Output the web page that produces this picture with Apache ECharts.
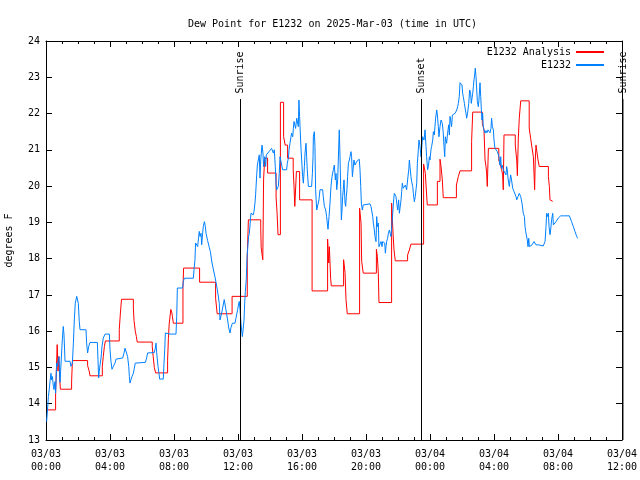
<!DOCTYPE html>
<html><head><meta charset="utf-8">
<script src="https://cdn.jsdelivr.net/npm/echarts@6/dist/echarts.min.js"></script>
<style>html,body{margin:0;padding:0;background:#fff}#c{width:640px;height:480px}</style>
</head><body><div id="c"></div>
<script>
// hours since 2025-03-03 00:00 UTC, dew point (F)
const analysisData = [[0.04,13.83],[0.6,14.29],[0.7,15.63],[0.75,14.9],[0.8,15.3],[0.85,14.75],[0.9,14.4],[1.6,14.6],[1.65,15.19],[2.6,15.05],[2.7,14.9],[2.75,14.77],[3.52,15.03],[3.58,15.3],[3.65,15.58],[3.71,15.73],[4.58,16.05],[4.65,16.5],[4.72,16.88],[5.46,16.64],[5.5,16.3],[5.58,16.0],[5.65,15.85],[5.7,15.7],[6.64,15.58],[6.7,15.3],[6.77,15.0],[6.85,14.85],[7.6,15.2],[7.65,15.8],[7.7,16.2],[7.8,16.6],[7.87,16.5],[7.9,16.4],[7.96,16.22],[8.56,17.2],[8.6,17.74],[9.6,17.35],[10.6,16.91],[10.7,16.48],[11.63,16.96],[12.58,18.1],[12.65,19.07],[13.42,18.85],[13.45,18.3],[13.55,17.97],[13.6,20.2],[13.67,20.77],[13.85,20.36],[14.38,19.7],[14.45,19.2],[14.5,18.66],[14.65,22.31],[14.85,21.36],[14.95,21.13],[15.1,20.77],[15.45,20.45],[15.5,20.0],[15.55,19.44],[15.65,20.4],[15.85,19.62],[16.63,17.11],[17.6,18.54],[17.67,17.88],[17.71,18.33],[17.79,17.46],[17.83,17.25],[18.6,17.97],[18.69,17.62],[18.75,16.87],[18.83,16.48],[19.6,19.39],[19.69,18.98],[19.73,17.92],[19.83,17.6],[20.65,18.26],[20.71,18.06],[20.77,17.6],[20.81,16.79],[21.6,19.53],[21.69,18.7],[21.75,18.24],[21.83,17.94],[22.6,18.1],[22.71,18.24],[22.81,18.4],[23.6,20.61],[23.71,20.35],[23.75,20.03],[23.83,19.48],[24.46,20.13],[24.625,20.74],[24.69,20.54],[24.77,20.17],[24.83,19.68],[25.65,20.03],[25.77,20.26],[25.875,20.42],[26.6,21.23],[26.67,22.04],[27.27,21.73],[27.375,21.55],[27.44,20.72],[27.5,20.54],[27.54,20.36],[27.58,19.99],[27.65,21.04],[28.3,20.72],[28.42,20.54],[28.48,20.45],[28.54,20.31],[28.58,19.9],[28.625,21.41],[29.33,21.13],[29.42,20.72],[29.46,20.29],[29.52,21.32],[29.58,21.87],[29.67,22.35],[30.2,21.6],[30.29,21.32],[30.35,21.13],[30.46,20.81],[30.5,20.36],[30.54,19.9],[30.58,20.72],[30.625,21.13],[30.75,20.72],[30.83,20.54],[31.4,20.26],[31.46,19.99],[31.5,19.62],[31.54,19.58],[31.67,19.58]];

const stationData = [[0.04,13.51],[0.08,13.74],[0.15,14.2],[0.21,14.43],[0.25,14.61],[0.31,14.84],[0.35,14.66],[0.4,14.75],[0.46,14.48],[0.5,14.39],[0.56,14.61],[0.6,14.29],[0.67,15.12],[0.71,15.03],[0.77,15.21],[0.81,15.3],[0.875,14.59],[0.98,14.59],[1.02,15.76],[1.08,16.13],[1.125,15.9],[1.19,15.17],[1.5,15.17],[1.56,15.03],[1.6,14.98],[1.65,15.12],[1.71,15.67],[1.77,16.31],[1.83,16.77],[1.92,16.96],[1.96,17.0],[2.02,16.77],[2.08,16.27],[2.125,16.04],[2.5,16.04],[2.54,15.67],[2.6,15.4],[2.67,15.58],[2.75,15.69],[3.21,15.69],[3.25,15.21],[3.29,14.71],[3.33,14.89],[3.375,15.07],[3.44,15.26],[3.5,15.58],[3.58,15.81],[3.69,15.92],[3.96,15.92],[4.0,15.49],[4.06,15.17],[4.125,14.95],[4.25,14.95],[4.31,15.12],[4.375,15.23],[4.46,15.26],[4.79,15.26],[4.875,15.4],[4.94,15.53],[5.04,15.53],[5.1,15.3],[5.17,15.03],[5.21,14.75],[5.25,14.57],[5.31,14.66],[5.375,14.75],[5.46,14.84],[5.52,14.98],[5.58,15.12],[5.67,15.14],[6.21,15.14],[6.29,15.26],[6.35,15.4],[6.42,15.41],[6.77,15.41],[6.83,15.53],[6.875,15.67],[6.92,15.4],[7.0,15.03],[7.06,14.84],[7.1,14.68],[7.33,14.68],[7.375,15.12],[7.42,15.49],[7.46,15.95],[7.54,15.97],[7.75,15.92],[8.125,15.92],[8.17,16.41],[8.21,17.19],[8.54,17.19],[8.58,17.37],[8.65,17.46],[9.21,17.46],[9.25,17.69],[9.31,17.97],[9.35,18.43],[9.42,18.47],[9.48,18.33],[9.54,18.61],[9.58,18.75],[9.625,18.61],[9.69,18.7],[9.73,18.38],[9.79,18.7],[9.83,18.88],[9.9,19.02],[9.96,18.88],[10.0,18.7],[10.1,18.5],[10.21,18.3],[10.27,18.2],[10.375,17.88],[10.46,17.88],[10.56,17.5],[10.71,17.14],[10.83,16.77],[10.875,16.31],[10.98,16.5],[11.14,16.87],[11.25,16.87],[11.35,16.31],[11.42,16.09],[11.5,15.95],[11.56,16.1],[11.65,16.22],[11.81,16.22],[11.87,16.35],[11.98,16.6],[12.04,16.75],[12.08,16.82],[12.125,16.6],[12.19,16.2],[12.27,15.85],[12.31,16.0],[12.375,16.3],[12.42,16.8],[12.46,17.1],[12.52,17.45],[12.56,18.0],[12.625,18.4],[12.66,18.6],[12.71,18.7],[12.81,19.25],[12.96,19.21],[13.0,19.3],[13.06,19.53],[13.1,19.76],[13.17,20.31],[13.21,20.58],[13.27,20.63],[13.33,20.86],[13.375,20.22],[13.42,20.72],[13.5,21.13],[13.56,20.91],[13.6,20.54],[13.63,20.68],[13.67,20.81],[13.73,20.54],[13.77,20.86],[13.81,20.91],[13.87,20.86],[13.94,20.95],[14.02,21.0],[14.1,21.04],[14.17,21.0],[14.21,20.91],[14.27,21.0],[14.33,20.54],[14.375,20.08],[14.42,19.9],[14.52,19.99],[14.58,20.35],[14.625,20.81],[14.69,20.83],[14.73,20.81],[14.79,20.45],[15.04,20.45],[15.08,20.63],[15.15,20.77],[15.19,21.0],[15.25,21.18],[15.31,21.36],[15.35,21.46],[15.42,21.36],[15.46,21.59],[15.5,21.78],[15.56,21.82],[15.6,21.59],[15.67,21.87],[15.73,21.92],[15.77,21.64],[15.81,22.37],[15.85,21.92],[15.875,21.92],[15.94,21.0],[15.98,20.72],[16.04,20.26],[16.085,20.08],[16.15,20.54],[16.19,20.91],[16.25,21.18],[16.29,20.81],[16.33,20.45],[16.4,19.99],[16.6,19.99],[16.65,20.35],[16.69,20.81],[16.71,21.36],[16.77,21.5],[16.81,21.09],[16.85,19.9],[16.92,19.34],[17.02,19.34],[17.06,19.62],[17.125,19.9],[17.29,19.9],[17.33,19.71],[17.4,19.44],[17.44,19.48],[17.48,19.34],[17.54,19.16],[17.58,18.98],[17.625,18.81],[17.69,19.16],[17.75,19.53],[17.81,19.99],[17.875,20.26],[17.96,20.45],[18.02,20.58],[18.085,20.17],[18.125,20.35],[18.17,19.9],[18.23,20.17],[18.29,21.0],[18.33,21.55],[18.375,20.81],[18.42,19.9],[18.46,19.07],[18.5,19.34],[18.54,19.71],[18.58,19.9],[18.625,20.17],[18.69,19.53],[18.73,19.44],[18.77,19.71],[18.81,19.9],[18.85,20.26],[18.9,20.63],[18.96,20.72],[19.0,20.81],[19.06,20.95],[19.1,20.81],[19.15,20.26],[19.19,20.45],[19.25,20.72],[19.31,20.58],[19.375,20.63],[19.42,20.68],[19.48,20.72],[19.58,20.74],[19.625,20.45],[19.67,19.99],[19.71,19.53],[19.77,19.34],[19.83,19.48],[19.9,19.53],[20.25,19.51],[20.31,19.44],[20.35,19.34],[20.42,19.16],[20.46,18.98],[20.52,18.79],[20.56,18.61],[20.625,18.47],[20.67,19.16],[20.71,18.88],[20.77,18.98],[20.81,18.33],[20.875,18.33],[20.94,18.47],[21.0,18.33],[21.04,18.47],[21.1,18.52],[21.17,18.43],[21.21,18.15],[21.25,18.33],[21.29,18.47],[21.35,18.56],[21.4,18.7],[21.46,18.79],[21.52,18.84],[21.56,18.61],[21.625,18.98],[21.67,19.25],[21.73,19.62],[21.77,19.8],[21.83,19.85],[21.875,19.71],[21.92,19.53],[21.98,19.34],[22.04,19.62],[22.085,19.25],[22.125,19.21],[22.19,19.62],[22.23,19.85],[22.27,20.08],[22.33,19.94],[22.4,19.9],[22.46,20.03],[22.5,19.99],[22.54,19.9],[22.6,20.17],[22.67,20.45],[22.71,20.72],[22.75,20.54],[22.81,20.26],[22.85,20.13],[22.92,19.99],[22.96,19.8],[23.02,19.57],[23.08,19.71],[23.125,19.9],[23.17,20.08],[23.21,20.63],[23.27,21.0],[23.31,21.27],[23.375,21.09],[23.44,20.81],[23.48,21.04],[23.54,21.36],[23.58,21.36],[23.625,21.27],[23.69,21.55],[23.75,21.09],[23.79,20.81],[23.85,20.45],[23.9,20.54],[23.96,20.81],[24.0,20.72],[24.06,21.0],[24.1,21.09],[24.17,21.27],[24.21,21.5],[24.27,21.41],[24.31,21.64],[24.35,21.87],[24.42,22.1],[24.46,21.96],[24.52,21.64],[24.56,21.36],[24.625,21.64],[24.69,21.82],[24.73,21.87],[24.77,21.73],[24.83,21.46],[24.875,21.09],[24.92,20.81],[24.96,21.36],[25.0,21.32],[25.04,21.18],[25.1,21.46],[25.17,21.69],[25.21,21.41],[25.25,21.92],[25.29,21.82],[25.35,21.64],[25.4,21.96],[25.46,22.01],[25.52,21.92],[25.58,22.01],[25.67,22.1],[25.73,22.19],[25.77,22.28],[25.83,22.47],[25.875,22.85],[25.94,22.83],[26.0,22.79],[26.04,22.56],[26.08,22.47],[26.15,22.28],[26.21,22.1],[26.25,22.01],[26.29,21.87],[26.35,22.01],[26.42,22.28],[26.48,22.65],[26.54,22.56],[26.58,22.28],[26.625,22.33],[26.67,22.56],[26.71,22.74],[26.75,22.93],[26.79,23.06],[26.83,23.25],[26.875,23.02],[26.92,22.65],[26.96,22.33],[27.02,22.19],[27.06,22.37],[27.125,22.85],[27.17,22.47],[27.21,22.1],[27.25,21.82],[27.29,22.01],[27.33,21.64],[27.375,21.55],[27.44,21.46],[27.5,21.53],[27.56,21.47],[27.625,21.55],[27.69,21.5],[27.75,21.47],[27.81,21.59],[27.85,21.87],[27.9,21.64],[27.96,21.55],[28.0,21.27],[28.06,21.04],[28.125,21.0],[28.17,21.04],[28.21,20.95],[28.27,20.91],[28.31,20.81],[28.33,20.72],[28.375,20.58],[28.42,20.81],[28.46,20.49],[28.5,20.58],[28.54,20.54],[28.58,20.45],[28.625,20.49],[28.69,20.45],[28.75,20.31],[28.79,20.54],[28.83,20.45],[28.875,20.22],[28.92,20.08],[28.96,19.99],[29.0,20.17],[29.04,20.31],[29.08,20.22],[29.125,20.17],[29.17,19.94],[29.21,19.99],[29.25,19.85],[29.31,19.8],[29.375,19.71],[29.42,19.62],[29.46,19.57],[29.5,19.71],[29.54,19.67],[29.58,19.8],[29.625,19.76],[29.67,19.71],[29.71,19.62],[29.75,19.53],[29.79,19.48],[29.83,19.25],[29.9,19.16],[29.94,18.88],[29.98,18.75],[30.04,18.7],[30.08,18.52],[30.125,18.33],[30.17,18.56],[30.21,18.33],[30.25,18.35],[30.31,18.38],[30.375,18.38],[30.46,18.43],[30.5,18.47],[30.56,18.52],[30.625,18.38],[30.67,18.33],[30.77,18.38],[30.875,18.38],[31.08,18.35],[31.19,18.47],[31.25,18.88],[31.29,19.25],[31.33,19.16],[31.4,19.25],[31.44,18.88],[31.5,18.66],[31.54,18.79],[31.6,19.07],[31.67,19.25],[31.71,18.93],[31.77,18.98],[31.875,19.02],[32.02,19.12],[32.17,19.18],[32.33,19.18],[32.71,19.18],[32.85,19.02],[32.96,18.88],[33.06,18.75],[33.17,18.61],[33.23,18.56]];

const xTickLabels = ['03/03\n00:00','03/03\n04:00','03/03\n08:00','03/03\n12:00','03/03\n16:00','03/03\n20:00','03/04\n00:00','03/04\n04:00','03/04\n08:00','03/04\n12:00'];
const sunNames = ['Sunrise','Sunset','Sunrise'];
const sunHours = [12.125, 23.47, 36.06];

const FONT = "'DejaVu Sans Mono', monospace";
const txt = {fontFamily: FONT, fontSize: 10, color: '#000'};
const LINE_TOP = 22.4, LABEL_START = 22.55;
const CLEAR = 'rgba(0,0,0,0)';
const X_MAX = 36;

// sun events inside the axis range: markLine; beyond it: graphic placed via axis scale
const markData = [];
sunHours.forEach((h, i) => {
  if (h > X_MAX) return;
  markData.push([{coord: [h, 13]}, {coord: [h, LINE_TOP]}]);
  markData.push([
    {coord: [h, LABEL_START], lineStyle: {color: CLEAR, width: 0},
     label: Object.assign({show: true, position: 'insideStart', distance: 0, formatter: sunNames[i]}, txt)},
    {coord: [h, 24], lineStyle: {color: CLEAR, width: 0}}
  ]);
});

const tickCommon = {
  axisLine: {show: true, onZero: false, lineStyle: {color: '#000', width: 1}},
  axisTick: {show: true, inside: true, length: 6, lineStyle: {color: '#000', width: 1}},
  splitLine: {show: false}
};
const lineIcon = 'path://M0,0H28V2H0Z';

const chart = echarts.init(document.getElementById('c'), null, {renderer: 'canvas'});
chart.setOption({
  animation: false,
  backgroundColor: '#fff',
  title: {text: 'Dew Point for E1232 on 2025-Mar-03 (time in UTC)', left: 183, top: 14,
    textStyle: {fontFamily: FONT, fontSize: 10, fontWeight: 'normal', color: '#000'}},
  legend: [
    {data: ['E1232 Analysis'], right: 31, top: 42, align: 'right', icon: lineIcon, itemWidth: 28, itemHeight: 2, textStyle: txt},
    {data: ['E1232'], right: 31, top: 55, align: 'right', icon: lineIcon, itemWidth: 28, itemHeight: 2, textStyle: txt}
  ],
  grid: {left: 46, right: 18, top: 41, bottom: 40, containLabel: false, outerBoundsMode: 'none'},
  xAxis: [
    Object.assign({type: 'value', min: 0, max: X_MAX, interval: 4, position: 'bottom',
      minorTick: {show: true, splitNumber: 4, length: 3, lineStyle: {color: '#000'}},
      axisLabel: Object.assign({formatter: v => xTickLabels[Math.round(v / 4)], lineHeight: 13, margin: 8}, txt)}, tickCommon),
    Object.assign({type: 'value', min: 0, max: X_MAX, interval: 4, position: 'top',
      minorTick: {show: true, splitNumber: 4, length: 3, lineStyle: {color: '#000'}},
      axisLabel: {show: false}}, tickCommon)
  ],
  yAxis: [
    Object.assign({type: 'value', min: 13, max: 24, interval: 1, position: 'left',
      name: 'degrees F', nameLocation: 'middle', nameGap: 32, nameTextStyle: txt,
      axisLabel: Object.assign({margin: 6}, txt)}, tickCommon),
    Object.assign({type: 'value', min: 13, max: 24, interval: 1, position: 'right',
      axisLabel: {show: false}}, tickCommon)
  ],
  series: [
    {name: 'E1232 Analysis', type: 'line', data: analysisData, step: 'end', symbol: 'none',
     color: '#ff0000', lineStyle: {color: '#ff0000', width: 1},
     markLine: {silent: true, symbol: ['none', 'none'], animation: false,
       lineStyle: {color: '#000', width: 1, type: 'solid'}, label: {show: false}, data: markData}},
    {name: 'E1232', type: 'line', data: stationData, symbol: 'none',
     color: '#0080ff', lineStyle: {color: '#0080ff', width: 1}}
  ]
});

const graphics = [];
sunHours.forEach((h, i) => {
  if (h <= X_MAX) return;
  const f = {xAxisIndex: 0, yAxisIndex: 0};
  const p0 = chart.convertToPixel(f, [h, 13]);
  const p1 = chart.convertToPixel(f, [h, LINE_TOP]);
  const p2 = chart.convertToPixel(f, [h, LABEL_START]);
  graphics.push({type: 'line', silent: true, z: 10,
    shape: {x1: p0[0], y1: p0[1], x2: p1[0], y2: p1[1]},
    style: {stroke: '#000', lineWidth: 1}});
  graphics.push({type: 'text', silent: true, z: 10, x: p2[0], y: p2[1], rotation: Math.PI / 2,
    style: {text: sunNames[i], font: "10px 'DejaVu Sans Mono', monospace", fill: '#000',
      align: 'left', verticalAlign: 'middle'}});
});
chart.setOption({graphic: graphics});
</script>
</body></html>
